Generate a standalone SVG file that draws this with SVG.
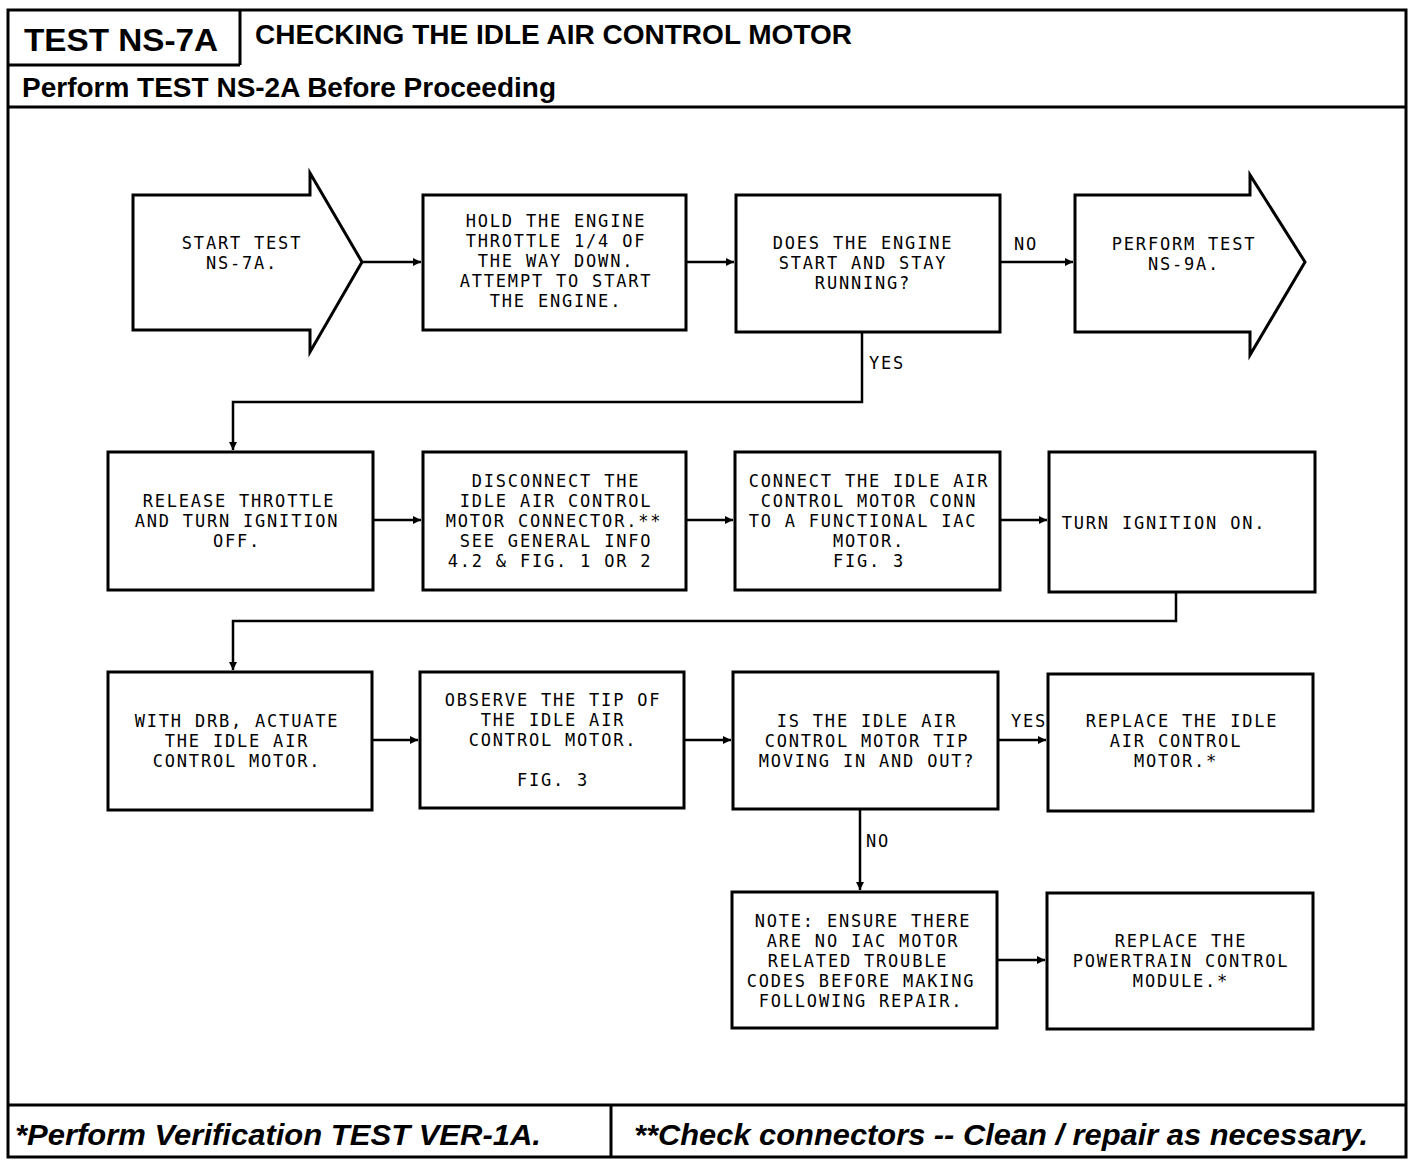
<svg xmlns="http://www.w3.org/2000/svg" width="1424" height="1166" viewBox="0 0 1424 1166">
<style>
.frame{fill:none;stroke:#000;stroke-width:3}
.box{fill:#fff;stroke:#000;stroke-width:3}
.con{fill:none;stroke:#000;stroke-width:2.5}
.t{font-family:"DejaVu Sans Mono","Liberation Mono",monospace;font-size:17px;letter-spacing:1.8px;fill:#000;text-anchor:middle}
.lbl{font-family:"DejaVu Sans Mono","Liberation Mono",monospace;font-size:17px;letter-spacing:1.8px;fill:#000}
.h{font-family:"Liberation Sans",Arial,sans-serif;font-weight:bold;fill:#000}
.f{font-family:"Liberation Sans",Arial,sans-serif;font-weight:bold;font-style:italic;fill:#000}
</style>
<defs>
<marker id="ah" markerWidth="10" markerHeight="10" refX="8" refY="4" orient="auto" markerUnits="userSpaceOnUse">
<path d="M0,0 L8,4 L0,8 Z" fill="#000"/>
</marker>
</defs>
<rect x="0" y="0" width="1424" height="1166" fill="#fff"/>
<g id="frame">
<rect class="frame" x="8" y="10" width="1398" height="1147"/>
<path class="frame" d="M240,10 V65 M8,65 H240 M8,107 H1406 M8,1105 H1406 M611,1105 V1157"/>
<text class="h" x="24" y="51" font-size="32" textLength="194" lengthAdjust="spacingAndGlyphs">TEST NS-7A</text>
<text class="h" x="255" y="44" font-size="28" textLength="597" lengthAdjust="spacingAndGlyphs">CHECKING THE IDLE AIR CONTROL MOTOR</text>
<text class="h" x="22" y="97" font-size="27" textLength="534" lengthAdjust="spacingAndGlyphs">Perform TEST NS-2A Before Proceeding</text>
<text class="f" x="15" y="1145" font-size="30" textLength="526" lengthAdjust="spacingAndGlyphs">*Perform Verification TEST VER-1A.</text>
<text class="f" x="634" y="1145" font-size="30" textLength="734" lengthAdjust="spacingAndGlyphs">**Check connectors -- Clean / repair as necessary.</text>
</g>
<g id="connectors">
<path class="con" d="M362,262 H421" marker-end="url(#ah)"/>
<path class="con" d="M686,262 H734" marker-end="url(#ah)"/>
<path class="con" d="M1000,262 H1073" marker-end="url(#ah)"/>
<path class="con" d="M862,332 V402 H233 V450" marker-end="url(#ah)"/>
<path class="con" d="M373,520 H421" marker-end="url(#ah)"/>
<path class="con" d="M686,520 H733" marker-end="url(#ah)"/>
<path class="con" d="M1000,520 H1047" marker-end="url(#ah)"/>
<path class="con" d="M1176,592 V621 H233 V670" marker-end="url(#ah)"/>
<path class="con" d="M372,740 H418" marker-end="url(#ah)"/>
<path class="con" d="M684,740 H731" marker-end="url(#ah)"/>
<path class="con" d="M998,740 H1046" marker-end="url(#ah)"/>
<path class="con" d="M860,809 V890" marker-end="url(#ah)"/>
<path class="con" d="M997,960 H1045" marker-end="url(#ah)"/>
<text class="lbl" x="1014" y="250">NO</text>
<text class="lbl" x="869" y="369">YES</text>
<text class="lbl" x="1011" y="727">YES</text>
<text class="lbl" x="866" y="847">NO</text>
</g>
<g id="n1">
<path class="box" d="M133,195 H310 V173 L362,262 L310,352 V330 H133 Z"/>
<text class="t" x="242" y="249">START TEST</text>
<text class="t" x="242" y="269">NS-7A.</text>
</g>
<g id="n2">
<rect class="box" x="423" y="195" width="263" height="135"/>
<text class="t" x="556" y="227">HOLD THE ENGINE</text>
<text class="t" x="556" y="247">THROTTLE 1/4 OF</text>
<text class="t" x="556" y="267">THE WAY DOWN.</text>
<text class="t" x="556" y="287">ATTEMPT TO START</text>
<text class="t" x="556" y="307">THE ENGINE.</text>
</g>
<g id="n3">
<rect class="box" x="736" y="195" width="264" height="137"/>
<text class="t" x="863" y="249">DOES THE ENGINE</text>
<text class="t" x="863" y="269">START AND STAY</text>
<text class="t" x="863" y="289">RUNNING?</text>
</g>
<g id="n4">
<path class="box" d="M1075,195 H1250 V175 L1305,262 L1250,355 V332 H1075 Z"/>
<text class="t" x="1184" y="250">PERFORM TEST</text>
<text class="t" x="1184" y="270">NS-9A.</text>
</g>
<g id="n5">
<rect class="box" x="108" y="452" width="265" height="138"/>
<text class="t" x="239" y="507">RELEASE THROTTLE</text>
<text class="t" x="237" y="527">AND TURN IGNITION</text>
<text class="t" x="237" y="547">OFF.</text>
</g>
<g id="n6">
<rect class="box" x="423" y="452" width="263" height="138"/>
<text class="t" x="556" y="487">DISCONNECT THE</text>
<text class="t" x="556" y="507">IDLE AIR CONTROL</text>
<text class="t" x="554" y="527">MOTOR CONNECTOR.**</text>
<text class="t" x="556" y="547">SEE GENERAL INFO</text>
<text class="t" x="550" y="567">4.2 &amp; FIG. 1 OR 2</text>
</g>
<g id="n7">
<rect class="box" x="735" y="452" width="265" height="138"/>
<text class="t" x="869" y="487">CONNECT THE IDLE AIR</text>
<text class="t" x="869" y="507">CONTROL MOTOR CONN</text>
<text class="t" x="863" y="527">TO A FUNCTIONAL IAC</text>
<text class="t" x="869" y="547">MOTOR.</text>
<text class="t" x="869" y="567">FIG. 3</text>
</g>
<g id="n8">
<rect class="box" x="1049" y="452" width="266" height="140"/>
<text class="t" x="1164" y="529">TURN IGNITION ON.</text>
</g>
<g id="n9">
<rect class="box" x="108" y="672" width="264" height="138"/>
<text class="t" x="237" y="727">WITH DRB, ACTUATE</text>
<text class="t" x="237" y="747">THE IDLE AIR</text>
<text class="t" x="237" y="767">CONTROL MOTOR.</text>
</g>
<g id="n10">
<rect class="box" x="420" y="672" width="264" height="136"/>
<text class="t" x="553" y="706">OBSERVE THE TIP OF</text>
<text class="t" x="553" y="726">THE IDLE AIR</text>
<text class="t" x="553" y="746">CONTROL MOTOR.</text>
<text class="t" x="553" y="786">FIG. 3</text>
</g>
<g id="n11">
<rect class="box" x="733" y="672" width="265" height="137"/>
<text class="t" x="867" y="727">IS THE IDLE AIR</text>
<text class="t" x="867" y="747">CONTROL MOTOR TIP</text>
<text class="t" x="867" y="767">MOVING IN AND OUT?</text>
</g>
<g id="n12">
<rect class="box" x="1048" y="674" width="265" height="137"/>
<text class="t" x="1182" y="727">REPLACE THE IDLE</text>
<text class="t" x="1176" y="747">AIR CONTROL</text>
<text class="t" x="1176" y="767">MOTOR.*</text>
</g>
<g id="n13">
<rect class="box" x="732" y="892" width="265" height="136"/>
<text class="t" x="863" y="927">NOTE: ENSURE THERE</text>
<text class="t" x="863" y="947">ARE NO IAC MOTOR</text>
<text class="t" x="858" y="967">RELATED TROUBLE</text>
<text class="t" x="861" y="987">CODES BEFORE MAKING</text>
<text class="t" x="861" y="1007">FOLLOWING REPAIR.</text>
</g>
<g id="n14">
<rect class="box" x="1047" y="893" width="266" height="136"/>
<text class="t" x="1181" y="947">REPLACE THE</text>
<text class="t" x="1181" y="967">POWERTRAIN CONTROL</text>
<text class="t" x="1181" y="987">MODULE.*</text>
</g>
</svg>
